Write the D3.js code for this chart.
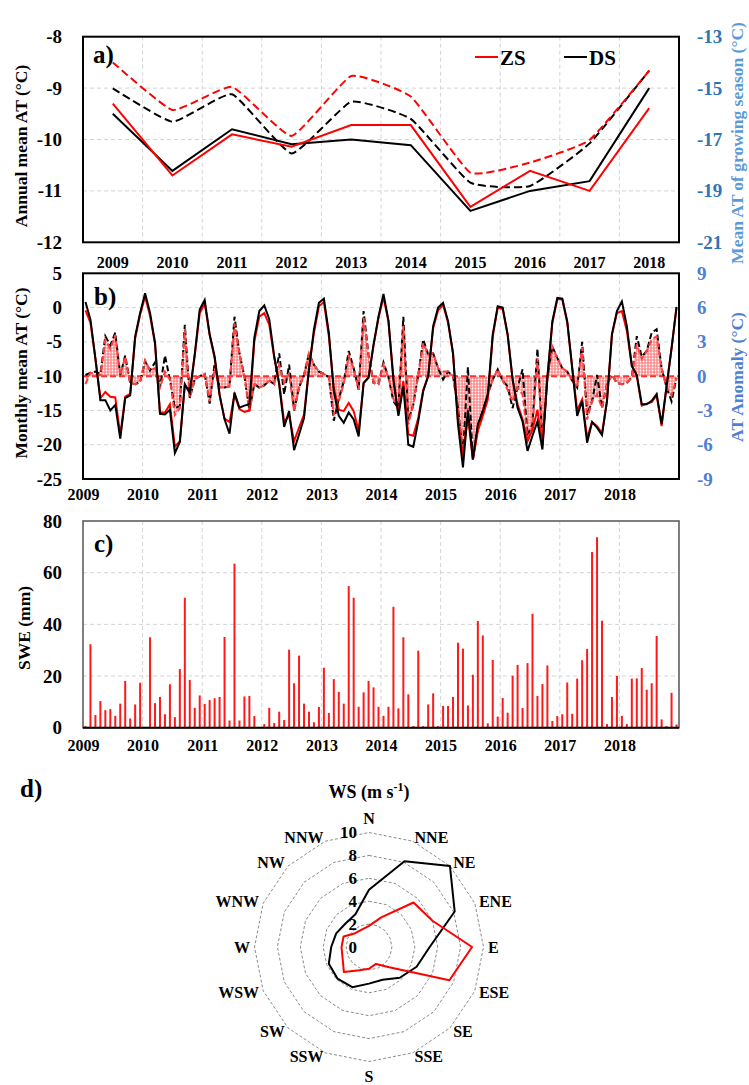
<!DOCTYPE html>
<html lang="en">
<head>
<meta charset="UTF-8">
<title>AT, SWE and WS at ZS and DS</title>
<script src="https://d3js.org/d3.v7.min.js"></script>
<style>
    body { margin: 0; background: #fff; }
    svg {
        display: block;
        font-family: "Liberation Serif", "Times New Roman", serif;
        font-weight: bold;
    }
</style>
</head>
<body>
<svg width="749" height="1085"></svg>

<script>
    // ---- data ----
    const years = [2009, 2010, 2011, 2012, 2013, 2014, 2015, 2016, 2017, 2018];

    // a) annual mean AT (left axis) and growing season mean AT (right axis)
    const zsAnnual = [-9.3, -10.7, -9.9, -10.14, -9.72, -9.72, -11.31, -10.61, -11.0, -9.39];
    const dsAnnual = [-9.5, -10.61, -9.8, -10.09, -10.0, -10.11, -11.39, -11.0, -10.81, -9.0];
    const zsGrowing = [-14.0, -15.85, -14.95, -16.86, -14.53, -15.33, -18.29, -17.9, -17.02, -14.32];
    const dsGrowing = [-15.01, -16.31, -15.24, -17.54, -15.53, -16.2, -18.68, -18.81, -17.15, -14.32];

    // b) monthly mean AT (left axis), Jan 2009 .. Dec 2018
    const dsMonthly = [
        0.8, -1.75, -7.4, -13.5, -13.5, -15.0, -14.2, -19.1, -13.2, -12.8, -4.2, -0.8,
        2.1, -0.8, -5.1, -15.5, -15.6, -14.9, -21.2, -19.6, -11.2, -12.4, -6.8, -0.3,
        1.1, -3.9, -7.1, -12.7, -16.3, -18.4, -12.4, -14.6, -14.3, -14.1, -4.4, -0.5,
        0.3, -1.7, -7.1, -11.2, -17.4, -15.1, -20.8, -18.5, -16.1, -9.0, -3.2, 0.7,
        1.3, -3.7, -12.2, -15.8, -16.8, -15.3, -16.3, -18.8, -11.0, -10.2, -5.4, -1.3,
        2.0, -1.9, -10.6, -15.8, -11.5, -20.0, -20.3, -16.6, -12.2, -10.0, -2.7, 0.0,
        0.7, -2.0, -6.6, -17.0, -23.3, -15.0, -22.1, -17.0, -15.1, -12.7, -3.9, 0.2,
        0.0, -3.9, -10.5, -14.6, -16.6, -20.9, -18.7, -16.6, -20.7, -10.2, -2.0, 1.4,
        1.3, -2.0, -8.8, -15.8, -13.6, -19.7, -16.7, -17.5, -18.6, -13.6, -3.9, -0.5,
        0.9, -2.7, -8.5, -9.8, -14.1, -14.1, -13.6, -12.6, -17.0, -11.5, -5.9, 0.1
    ];
    const zsMonthly = [
        -0.4, -2.2, -7.5, -13.2, -12.3, -13.0, -13.1, -18.6, -13.0, -12.6, -4.5, -1.0,
        1.6, -1.2, -5.3, -15.3, -15.3, -14.1, -20.3, -19.5, -11.2, -12.5, -7.0, -0.8,
        0.6, -4.0, -7.4, -12.8, -16.2, -16.7, -12.7, -14.8, -15.2, -15.0, -4.9, -1.3,
        -0.8, -2.5, -7.3, -11.0, -16.6, -15.8, -19.5, -17.5, -15.6, -8.8, -3.7, 0.2,
        0.8, -4.2, -11.7, -14.9, -15.1, -13.9, -15.1, -18.0, -11.0, -10.2, -5.5, -1.5,
        1.5, -2.0, -10.2, -15.5, -10.7, -18.5, -18.7, -16.1, -12.0, -10.0, -3.0, -0.4,
        0.4, -2.2, -6.8, -16.5, -21.5, -15.8, -22.2, -18.0, -15.8, -13.4, -4.2, 0.0,
        -0.2, -4.0, -10.5, -14.1, -16.3, -19.5, -17.8, -14.9, -20.2, -10.2, -2.2, 1.2,
        1.2, -2.2, -8.8, -15.0, -13.4, -19.0, -16.7, -17.3, -18.3, -13.6, -3.9, -0.8,
        -0.5, -3.4, -8.5, -10.0, -14.3, -14.0, -13.8, -12.8, -17.3, -11.5, -6.0, 0.0
    ];

    // b) AT anomaly (right axis)
    const dsAnomaly = [
        0.1, 0.3, 0.4, 0.2, 3.5, 2.7, 3.8, 0.1, 1.8, -0.6, -0.7, -0.5,
        1.3, 0.5, 1.2, -1.0, 1.8, -0.3, -2.8, -2.6, 4.5, -1.9, -0.3, 0.0,
        0.2, -2.4, 1.1, -1.0, -1.0, -0.9, 5.2, 2.0, 0.0, -3.0, -0.7, -1.0,
        -0.8, -0.4, -0.7, 2.0, -1.6, 1.0, -3.0, -1.0, 0.1, 2.0, 1.0, 0.4,
        0.2, -0.1, -3.9, -2.0, -0.5, 2.2, 0.7, -1.2, 5.7, 1.8, -0.6, -0.7,
        1.2, -0.1, -2.2, -2.8, 5.2, -3.9, -2.5, 0.1, 3.2, 1.9, 2.0, 0.7,
        -0.3, 0.4, 0.0, -2.8, -6.9, 0.8, -7.3, -4.5, -3.0, -1.6, -0.3, 0.6,
        -0.4, -0.9, -2.8, -1.0, 0.6, -5.2, -4.2, 2.4, -5.8, -0.1, 2.6, 1.6,
        0.7, 0.4, -0.4, -1.0, 3.0, -3.4, -2.2, 0.1, -2.8, -0.7, 0.1, -0.6,
        -0.7, -0.6, -0.1, 3.5, 1.7, 2.2, 3.8, 4.1, 0.7, -1.0, -2.2, -0.15
    ];
    const zsAnomaly = [
        -0.7, 0.3, 0.2, 0.1, 3.2, 2.4, 3.6, 0.1, 1.7, -0.6, -0.7, -0.5,
        1.4, 0.5, 0.7, -1.0, 0.4, -0.3, -3.4, -2.8, 4.1, -1.9, -0.3, 0.0,
        0.2, -2.2, 0.7, -1.0, -1.0, -0.9, 4.6, 2.0, 0.0, -3.1, -0.7, -1.0,
        -0.8, -0.4, -0.7, 1.0, -0.6, 0.2, -3.1, -1.0, 0.1, 2.0, 1.0, 0.4,
        0.2, -0.1, -3.4, -2.2, -0.7, 1.8, 0.7, -1.2, 5.1, 1.8, -0.6, -0.7,
        1.0, -0.1, -2.0, -2.8, 4.4, -4.2, -2.5, 0.1, 2.9, 1.9, 2.0, 0.7,
        0.4, 0.4, 0.0, -2.8, -7.0, -2.8, -7.3, -4.5, -3.0, -1.6, -0.3, 0.6,
        -0.4, -1.2, -2.2, -1.0, -1.6, -5.4, -4.5, 1.6, -5.8, -0.1, 2.6, 1.6,
        0.7, 0.4, -0.4, -1.0, 2.5, -3.8, -2.2, -1.6, -2.8, -0.7, 0.1, -0.6,
        -0.7, -0.6, -0.1, 2.8, 1.5, 2.2, 3.2, 3.5, 0.7, -1.0, -1.7, -0.15
    ];

    // c) monthly SWE (mm)
    const swe = [
        0.6, 32.3, 4.9, 10.3, 6.8, 7.2, 4.6, 9.3, 18.1, 3.6, 9.0, 17.4,
        0, 35.0, 9.5, 11.9, 5.2, 16.8, 4.1, 22.7, 50.3, 18.5, 7.7, 12.5,
        9.2, 10.7, 11.4, 11.9, 35.1, 2.8, 63.5, 2.8, 12.1, 12.3, 4.5, 0,
        1.4, 7.7, 1.8, 6.2, 3.0, 30.2, 17.2, 27.9, 9.3, 6.2, 2.1, 8.0,
        23.2, 5.7, 18.8, 13.9, 9.3, 54.8, 50.3, 8.1, 13.7, 18.1, 15.6, 8.1,
        4.6, 8.1, 46.8, 7.5, 35.0, 12.9, 0.6, 29.8, 0.6, 9.0, 13.3, 0.6,
        8.4, 8.4, 11.9, 32.9, 30.6, 8.6, 20.5, 41.3, 35.7, 1.7, 26.2, 4.3,
        11.5, 5.8, 20.1, 24.3, 7.6, 25.0, 44.1, 12.3, 16.9, 24.1, 2.6, 4.5,
        5.2, 17.5, 5.4, 19.0, 26.1, 30.5, 68.0, 73.7, 41.4, 1.4, 11.9, 20.0,
        4.6, 1.4, 19.0, 19.1, 23.1, 14.7, 17.2, 35.5, 3.2, 0.6, 13.5, 1.2
    ];

    // d) wind speed by direction (m/s)
    const directions = ["N", "NNE", "NE", "ENE", "E", "ESE", "SE", "SSE",
        "S", "SSW", "SW", "WSW", "W", "WNW", "NW", "NNW"];
    const zsWind = [1.85, 2.8, 5.5, 6.0, 9.0, 7.6, 2.5, 1.6, 1.9, 2.2, 3.1, 2.5, 2.4, 2.4, 1.7, 1.65];
    const dsWind = [5.0, 8.1, 10.0, 8.1, 5.3, 4.5, 3.8, 3.1, 3.2, 3.8, 3.9, 3.8, 3.3, 3.1, 2.9, 3.1];

    // tick labels
    const annualTicks = [-12, -11, -10, -9, -8];
    const growingTicks = [-21, -19, -17, -15, -13];
    const monthlyTicks = [-25, -20, -15, -10, -5, 0, 5];
    const anomalyTicks = [-9, -6, -3, 0, 3, 6, 9];
    const sweTicks = [0, 20, 40, 60, 80];
    const wsTicks = [0, 2, 4, 6, 8, 10];

    // ---- layout ----
    let svg = d3.select("svg");
    const L = 83, R = 679;
    const gridColor = "#d4d4d4";
    const blueDark = "#2e75b6", blueLight = "#5b9bd5", blueB = "#4f7fd4";
    const plain = d => String(d);   // keep the hyphen minus of the original

    // dotted fill for the anomaly area
    let pat = svg.append("defs").append("pattern")
        .attr("id", "dots").attr("width", 3).attr("height", 3)
        .attr("patternUnits", "userSpaceOnUse");
    pat.append("rect").attr("width", 3).attr("height", 3).attr("fill", "#ff8c8c");
    pat.append("circle").attr("cx", 1.5).attr("cy", 1.5).attr("r", 0.9).attr("fill", "#fff");

    function cleanAxis(g, size, color) {
        g.attr("font-family", null).attr("font-size", size);
        g.select(".domain").remove();
        g.selectAll("text").attr("fill", color).attr("font-weight", "bold");
    }

    function hGrid(g, y, values) {
        g.selectAll(null).data(values).enter().append("line")
            .attr("x1", L).attr("x2", R)
            .attr("y1", d => y(d)).attr("y2", d => y(d))
            .attr("stroke", gridColor).attr("stroke-dasharray", "4,3");
    }

    function vGrid(g, xs, top, bottom) {
        g.selectAll(null).data(xs).enter().append("line")
            .attr("x1", d => d).attr("x2", d => d)
            .attr("y1", top).attr("y2", bottom)
            .attr("stroke", gridColor).attr("stroke-dasharray", "4,3");
    }

    function yTitle(text, x, y, color) {
        svg.append("text")
            .attr("transform", `translate(${x},${y}) rotate(-90)`)
            .attr("text-anchor", "middle").attr("dominant-baseline", "central")
            .attr("font-size", 17.5).attr("fill", color).text(text);
    }

    function panelLabel(text, x, y) {
        svg.append("text").attr("x", x).attr("y", y)
            .attr("font-size", 25).text(text);
    }

    // ================= a) annual means =================
    const aTop = 36.7, aBot = 242.3;
    const xA = d3.scaleBand().domain(years).range([L, R]);
    const yA = d3.scaleLinear().domain([-12, -8]).range([aBot, aTop]);
    const yA2 = d3.scaleLinear().domain([-21, -13]).range([aBot, aTop]);
    const cx = d => xA(d) + xA.bandwidth() / 2;

    let gA = svg.append("g");
    hGrid(gA, yA, [-11, -10, -9]);
    vGrid(gA, years.slice(1).map(d => xA(d)), aTop, aBot);

    const lineA = d3.line().x((d, i) => cx(years[i])).y(d => yA(d));
    const lineA2 = d3.line().x((d, i) => cx(years[i])).y(d => yA2(d))
        .curve(d3.curveCardinal.tension(0.6));

    gA.append("path").attr("d", lineA2(dsGrowing)).attr("fill", "none")
        .attr("stroke", "#000").attr("stroke-width", 2).attr("stroke-dasharray", "8,4");
    gA.append("path").attr("d", lineA2(zsGrowing)).attr("fill", "none")
        .attr("stroke", "#ff0000").attr("stroke-width", 2).attr("stroke-dasharray", "8,4");
    gA.append("path").attr("d", lineA(dsAnnual)).attr("fill", "none")
        .attr("stroke", "#000").attr("stroke-width", 2);
    gA.append("path").attr("d", lineA(zsAnnual)).attr("fill", "none")
        .attr("stroke", "#ff0000").attr("stroke-width", 2);

    gA.append("rect").attr("x", L).attr("y", aTop).attr("width", R - L).attr("height", aBot - aTop)
        .attr("fill", "none").attr("stroke", "#000").attr("stroke-width", 2);

    svg.append("g").attr("transform", `translate(${L},0)`)
        .call(d3.axisLeft(yA).tickValues(annualTicks).tickFormat(plain).tickSize(0).tickPadding(21))
        .call(g => cleanAxis(g, 19, "#000"));
    svg.append("g").attr("transform", `translate(${R},0)`)
        .call(d3.axisRight(yA2).tickValues(growingTicks).tickFormat(plain).tickSize(0).tickPadding(18))
        .call(g => cleanAxis(g, 19, blueDark));
    svg.append("g").attr("transform", `translate(0,${aBot})`)
        .call(d3.axisBottom(xA).tickSize(0).tickPadding(14))
        .call(g => cleanAxis(g, 16, "#000"));

    yTitle("Annual mean AT (°C)", 21, 146, "#000");
    yTitle("Mean AT  of growing season (°C)", 737, 143, blueLight);
    panelLabel("a)", 93, 63);

    // legend
    const legend = [{name: "ZS", color: "#ff0000", x: 475}, {name: "DS", color: "#000", x: 564}];
    let lg = svg.append("g").selectAll("g").data(legend).enter().append("g");
    lg.append("line").attr("x1", d => d.x).attr("x2", d => d.x + 23)
        .attr("y1", 57).attr("y2", 57).attr("stroke", d => d.color).attr("stroke-width", 2);
    lg.append("text").attr("x", d => d.x + 25).attr("y", 64.5)
        .attr("font-size", 21).text(d => d.name);

    // ================= b) monthly AT and anomaly =================
    const bTop = 273.3, bBot = 479;
    const xM = d3.scaleLinear().domain([-0.5, 119.5]).range([L, R]);
    const yB = d3.scaleLinear().domain([-25, 5]).range([bBot, bTop]);
    const yB2 = d3.scaleLinear().domain([-9, 9]).range([bBot, bTop]);
    const yearStarts = years.map((d, k) => 12 * k - 0.5);

    let gB = svg.append("g");
    hGrid(gB, yB, [-20, -15, -10, -5, 0]);
    vGrid(gB, yearStarts.slice(1).map(d => xM(d)), bTop, bBot);

    const areaB = d3.area().x((d, i) => xM(i)).y0(yB2(0)).y1(d => yB2(d));
    gB.append("path").attr("d", areaB(zsAnomaly)).attr("fill", "url(#dots)");

    gB.append("line").attr("x1", L).attr("x2", R).attr("y1", yB2(0)).attr("y2", yB2(0))
        .attr("stroke", "#ff3030").attr("stroke-width", 2).attr("stroke-dasharray", "6,3");

    const lineAnom = d3.line().x((d, i) => xM(i)).y(d => yB2(d));
    const lineMon = d3.line().x((d, i) => xM(i)).y(d => yB(d));

    gB.append("path").attr("d", lineAnom(dsAnomaly)).attr("fill", "none")
        .attr("stroke", "#000").attr("stroke-width", 2).attr("stroke-dasharray", "6,3");
    gB.append("path").attr("d", lineAnom(zsAnomaly)).attr("fill", "none")
        .attr("stroke", "#ff4040").attr("stroke-width", 2).attr("stroke-dasharray", "6,3");
    gB.append("path").attr("d", lineMon(zsMonthly)).attr("fill", "none")
        .attr("stroke", "#ff0000").attr("stroke-width", 2);
    gB.append("path").attr("d", lineMon(dsMonthly)).attr("fill", "none")
        .attr("stroke", "#000").attr("stroke-width", 2);

    gB.append("rect").attr("x", L).attr("y", bTop).attr("width", R - L).attr("height", bBot - bTop)
        .attr("fill", "none").attr("stroke", "#000").attr("stroke-width", 2);

    svg.append("g").attr("transform", `translate(${L},0)`)
        .call(d3.axisLeft(yB).tickValues(monthlyTicks).tickFormat(plain).tickSize(0).tickPadding(21))
        .call(g => cleanAxis(g, 19, "#000"));
    svg.append("g").attr("transform", `translate(${R},0)`)
        .call(d3.axisRight(yB2).tickValues(anomalyTicks).tickFormat(plain).tickSize(0).tickPadding(18))
        .call(g => cleanAxis(g, 19, blueB));
    svg.append("g").attr("transform", `translate(0,${bBot})`)
        .call(d3.axisBottom(xM).tickValues(yearStarts).tickFormat((d, k) => years[k])
            .tickSize(0).tickPadding(10))
        .call(g => cleanAxis(g, 16, "#000"));

    yTitle("Monthly mean AT (°C)", 21, 373, "#000");
    yTitle("AT Anomaly (°C)", 737, 377, blueB);
    panelLabel("b)", 94, 305);

    // ================= c) SWE =================
    const cTop = 521, cBot = 727.7;
    const yC = d3.scaleLinear().domain([0, 80]).range([cBot, cTop]);

    let gC = svg.append("g");
    hGrid(gC, yC, [20, 40, 60]);
    vGrid(gC, yearStarts.slice(1).map(d => xM(d)), cTop, cBot);

    gC.selectAll(".bar").data(swe).enter().append("rect")
        .attr("class", "bar")
        .attr("x", (d, i) => xM(i) - 1)
        .attr("width", 2)
        .attr("y", d => yC(d))
        .attr("height", d => cBot - yC(d))
        .attr("fill", "#ff1a1a");

    gC.append("rect").attr("x", L).attr("y", cTop).attr("width", R - L).attr("height", cBot - cTop)
        .attr("fill", "none").attr("stroke", "#555").attr("stroke-width", 1.5);
    gC.append("line").attr("x1", L).attr("x2", R).attr("y1", cBot).attr("y2", cBot)
        .attr("stroke", "#000").attr("stroke-width", 2);

    svg.append("g").attr("transform", `translate(${L},0)`)
        .call(d3.axisLeft(yC).tickValues(sweTicks).tickFormat(plain).tickSize(0).tickPadding(21))
        .call(g => cleanAxis(g, 19, "#000"));
    svg.append("g").attr("transform", `translate(0,${cBot})`)
        .call(d3.axisBottom(xM).tickValues(yearStarts).tickFormat((d, k) => years[k])
            .tickSize(0).tickPadding(12))
        .call(g => cleanAxis(g, 16, "#000"));

    yTitle("SWE (mm)", 24, 628, "#000");
    panelLabel("c)", 94, 552);

    // ================= d) wind speed radar =================
    const rx = 369, ry = 947;
    const rW = d3.scaleLinear().domain([0, 10]).range([0, 114.5]);
    const step = 2 * Math.PI / directions.length;
    let gD = svg.append("g").attr("transform", `translate(${rx},${ry})`);

    const radar = d3.lineRadial().angle((d, i) => i * step).radius(d => rW(d))
        .curve(d3.curveLinearClosed);

    gD.selectAll(".ring").data(wsTicks.filter(d => d > 0)).enter().append("path")
        .attr("class", "ring")
        .attr("d", v => radar(directions.map(() => v)))
        .attr("fill", "none").attr("stroke", "#8c8c8c").attr("stroke-width", 1)
        .attr("stroke-dasharray", "3,2");

    gD.append("path").attr("d", radar(dsWind)).attr("fill", "none")
        .attr("stroke", "#000").attr("stroke-width", 2).attr("stroke-linejoin", "round");
    gD.append("path").attr("d", radar(zsWind)).attr("fill", "none")
        .attr("stroke", "#ff0000").attr("stroke-width", 2).attr("stroke-linejoin", "round");

    gD.selectAll(".rlab").data(wsTicks).enter().append("text")
        .attr("class", "rlab")
        .attr("x", -12).attr("y", d => -rW(d))
        .attr("text-anchor", "end").attr("dominant-baseline", "central")
        .attr("font-size", 17).text(d => d);

    gD.selectAll(".dlab").data(directions).enter().append("text")
        .attr("class", "dlab")
        .attr("x", (d, i) => 119 * Math.sin(i * step))
        .attr("y", (d, i) => -119 * Math.cos(i * step) - (Math.abs(Math.sin(i * step)) < 0.1 ? 10 * Math.cos(i * step) : 0))
        .attr("text-anchor", (d, i) => {
            let s = Math.sin(i * step);
            return s > 0.1 ? "start" : (s < -0.1 ? "end" : "middle");
        })
        .attr("dominant-baseline", "central")
        .attr("font-size", 16).text(d => d);

    let wsTitle = svg.append("text").attr("x", rx).attr("y", 798)
        .attr("text-anchor", "middle").attr("font-size", 18);
    wsTitle.append("tspan").text("WS (m s");
    wsTitle.append("tspan").attr("dy", -7).attr("font-size", 12).text("-1");
    wsTitle.append("tspan").attr("dy", 7).text(")");

    panelLabel("d)", 20, 797);
</script>
</body>
</html>
